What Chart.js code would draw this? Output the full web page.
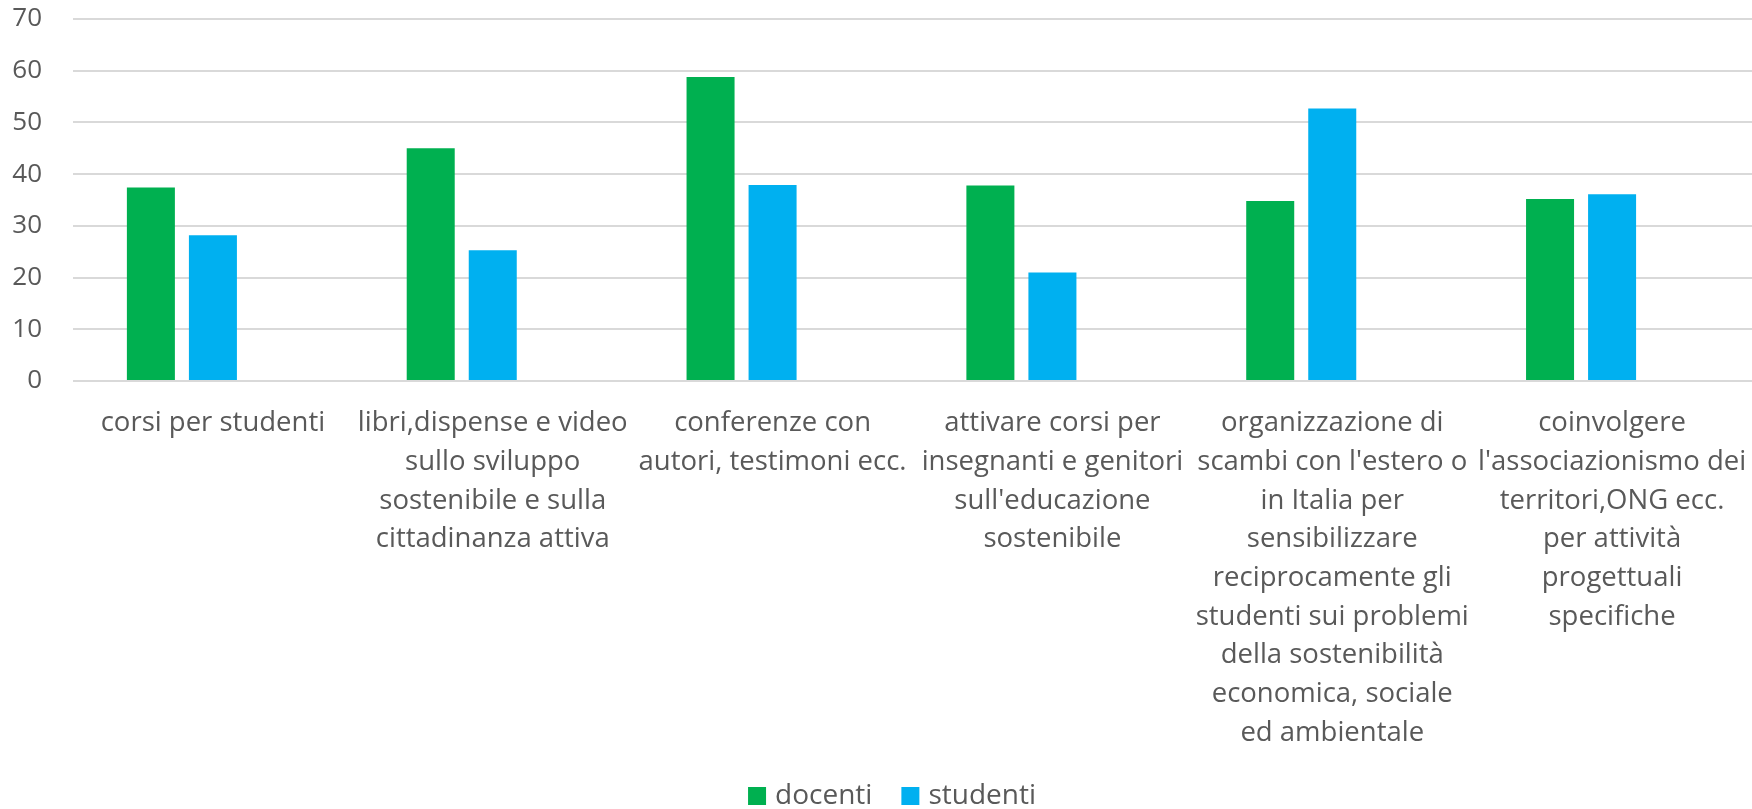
<!DOCTYPE html>
<html lang="it">
<head>
<meta charset="utf-8">
<script src="https://cdn.jsdelivr.net/npm/chart.js@4/dist/chart.umd.min.js"></script>
<style>
  html, body { margin: 0; padding: 0; background: #ffffff; }
  #wrap { width: 1752px; height: 809px; }
</style>
</head>
<body>
<div id="wrap"><canvas id="chart" width="1752" height="809"></canvas></div>
<script>
// Categorie (etichette già spezzate su più righe)
const categories = [
  ["corsi per studenti"],
  ["libri,dispense e video", "sullo sviluppo", "sostenibile e sulla", "cittadinanza attiva"],
  ["conferenze con", "autori, testimoni ecc."],
  ["attivare corsi per", "insegnanti e genitori", "sull'educazione", "sostenibile"],
  ["organizzazione di", "scambi con l'estero o", "in Italia per", "sensibilizzare",
   "reciprocamente gli", "studenti sui problemi", "della sostenibilità",
   "economica, sociale", "ed ambientale"],
  ["coinvolgere", "l'associazionismo dei", "territori,ONG ecc.", "per attività",
   "progettuali", "specifiche"]
];

// Valori delle serie
const docenti  = [37.4, 45.0, 58.8, 37.8, 34.8, 35.2];
const studenti = [28.2, 25.3, 37.9, 21.0, 52.7, 36.1];
// Terza serie vuota: occupa il suo posto nel gruppo senza disegnare barre
const vuota    = [null, null, null, null, null, null];

// Tacche dell'asse dei valori
const yTicks = [0, 10, 20, 30, 40, 50, 60, 70];

const seriesNames = ["docenti", "studenti", ""];
const textColor = "#595959";
const fontFamily = "'Open Sans', Lato, sans-serif";

// Legenda in basso: quadratino colorato seguito dal nome della serie
const bottomLegend = {
  id: "bottomLegend",
  afterDraw(chart) {
    const ctx = chart.ctx;
    const items = chart.data.datasets.filter(d => d.label);
    const box = 18, gapText = 9, gapItem = 29, fontSize = 28;
    ctx.save();
    ctx.font = fontSize + "px " + fontFamily;
    ctx.textBaseline = "middle";
    ctx.textAlign = "left";
    const widths = items.map(d => ctx.measureText(d.label).width);
    let total = 0;
    widths.forEach((w, i) => { total += box + gapText + w + (i < widths.length - 1 ? gapItem : 0); });
    let x = chart.width / 2 + 16 - total / 2;
    const y = chart.height - 13;
    items.forEach((d, i) => {
      ctx.fillStyle = d.backgroundColor;
      ctx.fillRect(x, y - box / 2, box, box);
      x += box + gapText;
      ctx.fillStyle = textColor;
      ctx.fillText(d.label, x, y);
      x += widths[i] + gapItem;
    });
    ctx.restore();
  }
};

new Chart(document.getElementById("chart"), {
  type: "bar",
  data: {
    labels: categories,
    datasets: [
      { label: seriesNames[0], data: docenti,  backgroundColor: "#00B050" },
      { label: seriesNames[1], data: studenti, backgroundColor: "#00B0F0" },
      { label: seriesNames[2], data: vuota,    backgroundColor: "rgba(0,0,0,0)" }
    ]
  },
  plugins: [bottomLegend],
  options: {
    responsive: false,
    devicePixelRatio: 1,
    animation: false,
    layout: { padding: { top: 19, right: 0, bottom: 0, left: 0 } },
    datasets: {
      bar: { categoryPercentage: 0.665, barPercentage: 0.774 }
    },
    plugins: {
      tooltip: { enabled: false },
      legend: { display: false }
    },
    scales: {
      x: {
        grid: { display: false, drawTicks: false },
        border: { display: false },
        ticks: {
          color: textColor,
          font: { family: fontFamily, size: 27.5, lineHeight: 1.407 },
          padding: 23,
          autoSkip: false,
          minRotation: 0,
          maxRotation: 0
        },
        afterFit: (scale) => {
          scale.height = 428;
          scale.paddingLeft = 0;
          scale.paddingRight = 0;
        }
      },
      y: {
        min: 0,
        max: 70,
        afterBuildTicks: (scale) => { scale.ticks = yTicks.map(v => ({ value: v })); },
        grid: { color: "#D9D9D9", lineWidth: 2, drawTicks: false },
        border: { display: false },
        ticks: {
          color: textColor,
          font: { family: fontFamily, size: 26 },
          padding: 31
        },
        afterFit: (scale) => {
          scale.width = 73;
          scale.paddingTop = 0;
          scale.paddingBottom = 0;
        }
      }
    }
  }
});
</script>
</body>
</html>
